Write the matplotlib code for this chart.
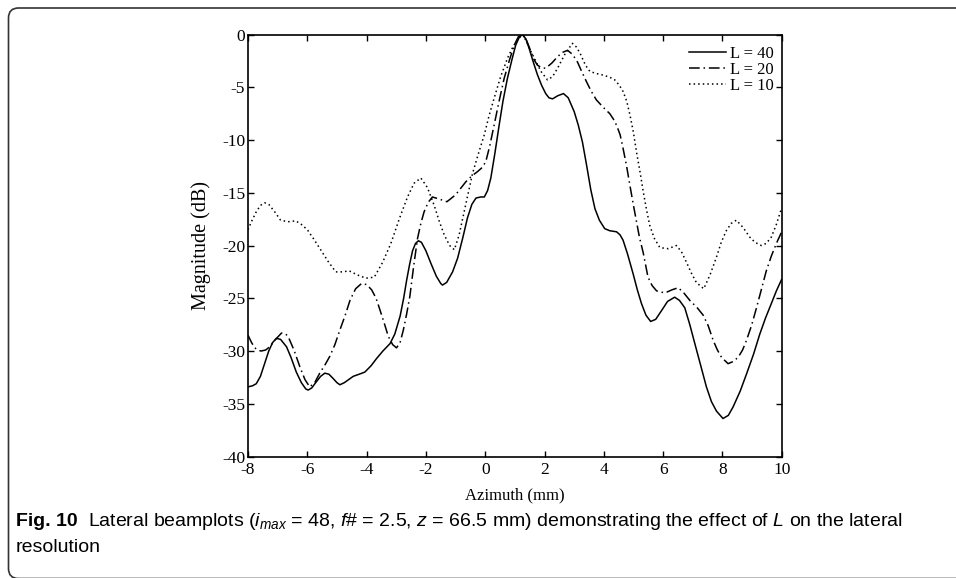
import matplotlib
matplotlib.use("Agg")
import matplotlib.pyplot as plt
from matplotlib.patches import FancyBboxPatch
from matplotlib.transforms import IdentityTransform

# Values (azimuth in mm, magnitude in dB)
az_l40 = [-8.0, -7.85, -7.72, -7.58, -7.44, -7.3, -7.17, -7.04, -6.9, -6.7, -6.55, -6.37,
          -6.2, -6.05, -5.97, -5.85, -5.69, -5.55, -5.41, -5.27, -5.13, -5.0, -4.9, -4.75,
          -4.6, -4.45, -4.25, -4.06, -3.85, -3.66, -3.45, -3.21, -3.05, -2.87, -2.75, -2.65,
          -2.55, -2.45, -2.35, -2.25, -2.15, -2.0, -1.83, -1.65, -1.5, -1.44, -1.3, -1.1,
          -0.93, -0.75, -0.6, -0.45, -0.31, -0.15, -0.03, 0.08, 0.19, 0.33, 0.47, 0.6, 0.75,
          0.9, 1.03, 1.15, 1.26, 1.37, 1.48, 1.62, 1.76, 1.9, 2.04, 2.15, 2.27, 2.45, 2.64,
          2.8, 3.0, 3.14, 3.28, 3.42, 3.56, 3.7, 3.85, 4.03, 4.2, 4.43, 4.55, 4.65, 4.8, 4.99,
          5.13, 5.27, 5.42, 5.58, 5.75, 5.94, 6.15, 6.39, 6.55, 6.73, 6.9, 7.07, 7.27, 7.46,
          7.63, 7.8, 8.02, 8.2, 8.36, 8.6, 8.81, 9.05, 9.26, 9.45, 9.65, 9.82, 10.0]
db_l40 = [-33.4, -33.3, -33.1, -32.4, -31.2, -30.0, -29.2, -28.8, -28.9, -29.6, -30.6, -32.0,
          -33.0, -33.6, -33.7, -33.5, -32.9, -32.4, -32.1, -32.2, -32.6, -33.0, -33.2, -33.0,
          -32.7, -32.4, -32.2, -32.0, -31.4, -30.7, -30.0, -29.3, -28.4, -26.7, -25.0, -23.3,
          -21.8, -20.5, -19.8, -19.55, -19.7, -20.5, -21.7, -22.9, -23.6, -23.75, -23.5, -22.5,
          -21.2, -19.2, -17.4, -16.1, -15.5, -15.4, -15.4, -14.8, -13.6, -11.2, -8.6, -6.3,
          -4.15, -2.4, -1.0, -0.25, 0.0, -0.4, -1.3, -2.6, -3.8, -4.8, -5.6, -6.0, -6.1, -5.8,
          -5.6, -6.0, -7.3, -8.6, -10.2, -12.4, -14.7, -16.5, -17.6, -18.4, -18.6, -18.7,
          -19.0, -19.5, -20.8, -22.7, -24.2, -25.5, -26.6, -27.2, -27.0, -26.2, -25.3, -24.9,
          -25.2, -25.9, -27.5, -29.3, -31.4, -33.4, -34.8, -35.7, -36.4, -36.1, -35.3, -33.8,
          -32.2, -30.3, -28.4, -26.9, -25.5, -24.3, -23.2]

az_l20 = [-8.0, -7.88, -7.77, -7.65, -7.55, -7.4, -7.27, -7.07, -6.87, -6.75, -6.65, -6.45,
          -6.25, -6.08, -5.92, -5.75, -5.58, -5.4, -5.24, -5.07, -4.9, -4.72, -4.56, -4.37,
          -4.17, -4.0, -3.83, -3.68, -3.55, -3.4, -3.27, -3.12, -2.99, -2.87, -2.76, -2.65,
          -2.54, -2.41, -2.28, -2.17, -2.06, -1.92, -1.78, -1.55, -1.29, -1.0, -0.65, -0.45,
          -0.26, -0.1, 0.02, 0.15, 0.3, 0.47, 0.64, 0.82, 0.98, 1.12, 1.26, 1.4, 1.54, 1.65,
          1.76, 1.9, 2.04, 2.25, 2.44, 2.6, 2.78, 2.95, 3.11, 3.27, 3.42, 3.58, 3.75, 3.98, 4.2,
          4.32, 4.43, 4.55, 4.65, 4.77, 4.88, 5.0, 5.1, 5.2, 5.33, 5.49, 5.63, 5.78, 6.06, 6.3,
          6.51, 6.7, 6.9, 7.15, 7.35, 7.52, 7.69, 7.83, 7.97, 8.19, 8.36, 8.53, 8.68, 8.81,
          8.98, 9.15, 9.32, 9.48, 9.65, 9.82, 10.0]
db_l20 = [-28.5, -29.2, -29.7, -29.95, -30.0, -29.9, -29.6, -28.9, -28.3, -28.35, -28.6,
          -29.9, -31.5, -32.7, -33.4, -33.0, -32.1, -31.3, -30.5, -29.4, -28.0, -26.6, -25.2,
          -24.1, -23.6, -23.7, -24.2, -25.0, -26.1, -27.4, -28.6, -29.4, -29.7, -29.2, -28.0,
          -26.5, -24.8, -21.9, -19.3, -17.9, -16.8, -15.9, -15.4, -15.6, -15.85, -15.2, -13.95,
          -13.4, -13.0, -12.6, -12.05, -10.6, -8.6, -6.3, -4.15, -2.4, -1.0, -0.2, 0.0, -0.6,
          -1.6, -2.4, -2.9, -3.15, -3.2, -2.7, -2.1, -1.7, -1.5, -1.9, -2.6, -3.6, -4.5, -5.4,
          -6.2, -6.9, -7.5, -8.0, -8.6, -9.5, -10.8, -12.5, -14.3, -16.2, -17.7, -19.2, -20.7,
          -23.0, -23.8, -24.3, -24.5, -24.2, -24.0, -24.5, -25.2, -25.9, -26.6, -27.6, -29.0,
          -29.9, -30.6, -31.2, -31.0, -30.6, -29.9, -29.0, -27.6, -25.9, -24.1, -22.4, -21.0,
          -19.8, -18.7]

az_l10 = [-8.0, -7.86, -7.72, -7.58, -7.44, -7.3, -7.1, -6.9, -6.65, -6.39, -6.2, -6.0,
          -5.78, -5.55, -5.3, -5.04, -4.8, -4.59, -4.3, -4.02, -3.74, -3.46, -3.18, -2.9,
          -2.62, -2.4, -2.17, -1.95, -1.72, -1.55, -1.38, -1.2, -1.04, -0.88, -0.71, -0.57,
          -0.43, -0.23, -0.03, 0.13, 0.3, 0.52, 0.75, 0.93, 1.09, 1.26, 1.4, 1.54, 1.72, 1.88,
          2.1, 2.27, 2.44, 2.7, 2.94, 3.08, 3.22, 3.38, 3.53, 3.75, 3.98, 4.2, 4.37, 4.52,
          4.65, 4.77, 4.88, 5.0, 5.1, 5.22, 5.33, 5.44, 5.55, 5.7, 5.89, 6.17, 6.45, 6.62,
          6.79, 6.95, 7.12, 7.37, 7.58, 7.8, 7.96, 8.13, 8.3, 8.47, 8.7, 8.92, 9.1, 9.31, 9.48,
          9.65, 9.82, 10.0]
db_l10 = [-18.5, -17.6, -16.8, -16.2, -15.95, -16.1, -16.8, -17.6, -17.75, -17.66, -18.0,
          -18.5, -19.4, -20.4, -21.5, -22.5, -22.5, -22.4, -22.8, -23.1, -23.0, -21.6, -19.8,
          -17.5, -15.4, -14.1, -13.6, -14.5, -16.2, -17.7, -19.0, -20.0, -20.4, -19.0, -16.8,
          -15.0, -13.2, -11.3, -9.5, -7.7, -6.05, -4.0, -2.26, -1.2, -0.5, 0.0, -0.7, -1.6,
          -2.6, -3.5, -4.3, -4.0, -3.2, -1.8, -0.84, -1.2, -1.9, -2.9, -3.5, -3.7, -3.85,
          -4.05, -4.3, -4.8, -5.4, -6.3, -7.6, -9.3, -11.1, -13.0, -14.9, -16.6, -18.1, -19.3,
          -20.2, -20.3, -20.0, -20.6, -21.6, -22.6, -23.5, -24.1, -22.8, -21.1, -19.7, -18.6,
          -17.9, -17.6, -18.3, -19.2, -19.7, -20.0, -19.8, -19.2, -18.0, -16.4]

x_ticks = [-8, -6, -4, -2, 0, 2, 4, 6, 8, 10]
y_ticks = [0, -5, -10, -15, -20, -25, -30, -35, -40]

serif = ["Liberation Serif", "DejaVu Serif"]
sans = ["Liberation Sans", "DejaVu Sans"]

plt.rcParams["axes.unicode_minus"] = False
plt.rcParams["mathtext.fontset"] = "custom"
plt.rcParams["mathtext.rm"] = "Liberation Sans"
plt.rcParams["mathtext.it"] = "Liberation Sans:italic"

fig = plt.figure(figsize=(9.56, 5.78), dpi=100)
ax = fig.add_axes([0.2594, 0.2102, 0.5583, 0.7301])

ax.plot(az_l40, db_l40, color="black", lw=1.1, ls="-", label="L = 40")
ax.plot(az_l20, db_l20, color="black", lw=1.1, ls=(0, (7, 2.5, 1, 2.5)), label="L = 20")
ax.plot(az_l10, db_l10, color="black", lw=1.1, ls=(0, (1, 2)), label="L = 10")

ax.set_xlim(-8, 10)
ax.set_ylim(-40, 0)
ax.set_xticks(x_ticks)
ax.set_yticks(y_ticks)
ax.tick_params(direction="in", length=4, width=1, top=True, right=True, labelsize=12.5)
ax.tick_params(axis="x", pad=4)
ax.tick_params(axis="y", pad=2)
for lab in ax.get_xticklabels() + ax.get_yticklabels():
    lab.set_family(serif)
for sp in ax.spines.values():
    sp.set_linewidth(1.2)

ax.set_xlabel("Azimuth (mm)", family=serif, fontsize=12, labelpad=7)
ax.set_ylabel("Magnitude (dB)", family=serif, fontsize=14.5, labelpad=8)

leg = ax.legend(loc="upper right", frameon=False, prop={"family": serif, "size": 12},
                handlelength=2.2, handletextpad=0.25, labelspacing=0.0,
                borderpad=0, borderaxespad=0, bbox_to_anchor=(0.985, 0.972))

# caption under the chart
fig.text(16 / 956, 1 - 521 / 578, "Fig. 10", family=sans, fontweight="bold",
         fontsize=14, va="center", ha="left")
fig.text(88 / 956, 1 - 521 / 578,
         r"Lateral beamplots ($i_{max}$ = 48, $f$# = 2.5, $z$ = 66.5 mm) demonstrating "
         r"the effect of $L$ on the lateral",
         family=sans, fontsize=14, va="center", ha="left")
fig.text(16 / 956, 1 - 548 / 578, "resolution", family=sans, fontsize=14,
         va="center", ha="left")

# rounded page frame around the figure
frame = FancyBboxPatch((8.5, -0.5), 1400, 570.5, boxstyle="round,pad=0,rounding_size=10",
                       transform=IdentityTransform(), fill=False, edgecolor="#333333",
                       lw=1.2, clip_on=False)
fig.patches.append(frame)

fig.savefig("out.png", dpi=100)
